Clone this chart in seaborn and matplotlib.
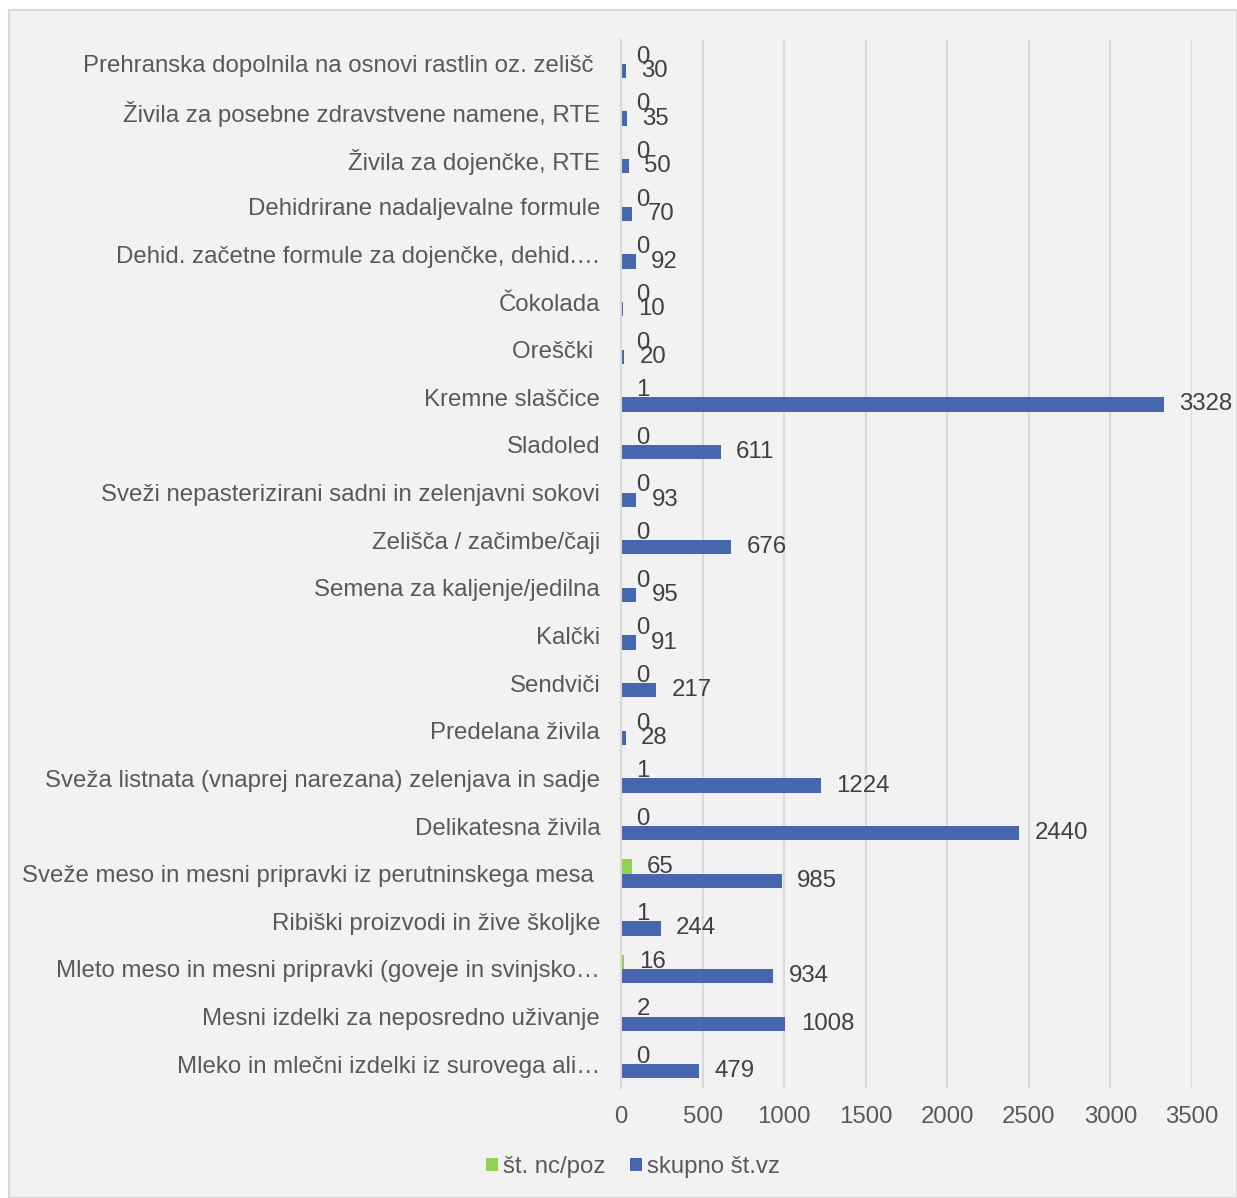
import numpy as np
import pandas as pd
import seaborn as sns
import matplotlib
matplotlib.use("Agg")
from matplotlib import pyplot as plt
from matplotlib.patches import Rectangle, Patch

categories = [
    "Prehranska dopolnila na osnovi rastlin oz. zelišč ",
    "Živila za posebne zdravstvene namene, RTE",
    "Živila za dojenčke, RTE",
    "Dehidrirane nadaljevalne formule",
    "Dehid. začetne formule za dojenčke, dehid.…",
    "Čokolada",
    "Oreščki ",
    "Kremne slaščice",
    "Sladoled",
    "Sveži nepasterizirani sadni in zelenjavni sokovi",
    "Zelišča / začimbe/čaji",
    "Semena za kaljenje/jedilna",
    "Kalčki",
    "Sendviči",
    "Predelana živila",
    "Sveža listnata (vnaprej narezana) zelenjava in sadje",
    "Delikatesna živila",
    "Sveže meso in mesni pripravki iz perutninskega mesa ",
    "Ribiški proizvodi in žive školjke",
    "Mleto meso in mesni pripravki (goveje in svinjsko…",
    "Mesni izdelki za neposredno uživanje",
    "Mleko in mlečni izdelki iz surovega ali…",
]
nc_poz = [0, 0, 0, 0, 0, 0, 0, 1, 0, 0, 0, 0, 0, 0, 0, 1, 0, 65, 1, 16, 2, 0]
skupno = [30, 35, 50, 70, 92, 10, 20, 3328, 611, 93, 676, 95, 91, 217, 28,
          1224, 2440, 985, 244, 934, 1008, 479]
series = ["št. nc/poz", "skupno št.vz"]
colors = {"št. nc/poz": "#92D050", "skupno št.vz": "#4667AE"}

df = pd.DataFrame({
    "kategorija": categories * 2,
    "serija": [series[0]] * len(categories) + [series[1]] * len(categories),
    "vrednost": nc_poz + skupno,
})

plt.rcParams["font.family"] = ["Liberation Sans", "DejaVu Sans"]
txt = "#595959"
fs = 17.3

fig = plt.figure(figsize=(12.37, 11.98), dpi=100)
fig.patch.set_facecolor("white")
fig.patches.append(Rectangle((9 / 1237, 0), 1 - 9 / 1237, 1 - 10 / 1198,
                             transform=fig.transFigure, facecolor="#f2f2f2",
                             edgecolor="#d9d9d9", linewidth=1.5, zorder=-10))

ax = fig.add_axes([621 / 1237, 0.0918, (1192 - 621) / 1237, 0.9666 - 0.0918])
ax.set_facecolor("none")

sns.barplot(data=df, y="kategorija", x="vrednost", hue="serija",
            hue_order=series, palette=colors, orient="h", width=0.6,
            order=categories, ax=ax, saturation=1, legend=False)

for cont in ax.containers:
    ax.bar_label(cont, padding=11, fontsize=fs, color="#404040")

ax.set_xlim(0, 3500)
ax.set_xticks(np.arange(0, 3501, 500))
ax.xaxis.grid(True, color="#d9d9d9", linewidth=1.5)
ax.set_axisbelow(True)
for s in ["top", "right", "bottom"]:
    ax.spines[s].set_visible(False)
ax.spines["left"].set_color("#d9d9d9")
ax.spines["left"].set_linewidth(1.5)
ax.tick_params(axis="both", length=0, labelsize=fs, labelcolor=txt)
ax.tick_params(axis="y", pad=15)
ax.tick_params(axis="x", pad=13)
ax.set_xlabel("")
ax.set_ylabel("")

handles = [Patch(facecolor=colors[s], label=s) for s in series]
fig.legend(handles=handles, loc="center", ncol=2,
           bbox_to_anchor=(633 / 1237, 1 - 1167 / 1198), frameon=False,
           fontsize=fs, labelcolor=txt, handlelength=0.5, handleheight=0.5,
           handletextpad=0.2, columnspacing=1.0)

fig.savefig("out.png", dpi=100)
